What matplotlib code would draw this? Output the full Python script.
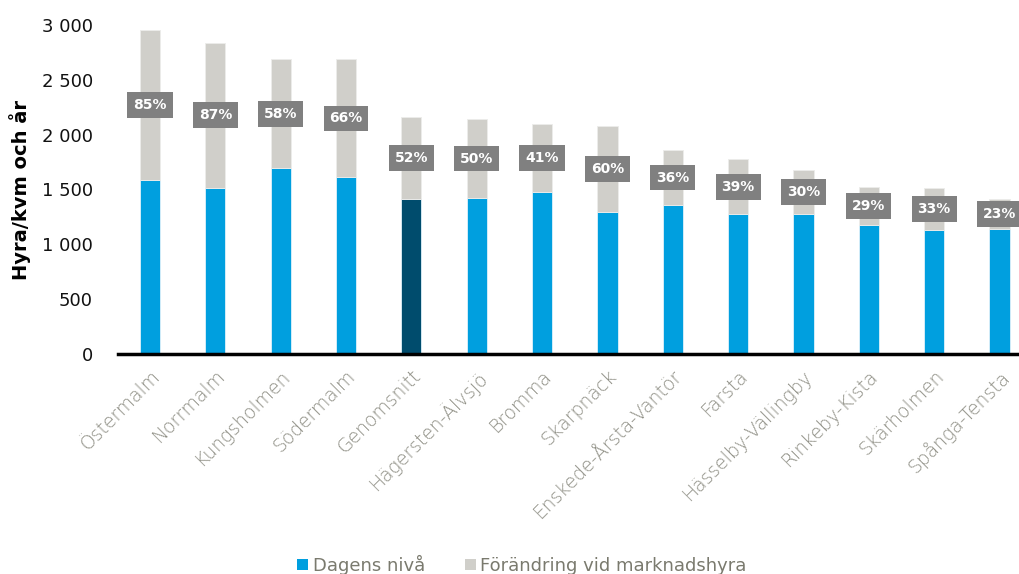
import matplotlib
matplotlib.use("Agg")
import matplotlib.pyplot as plt
from matplotlib.patches import Patch

categories = ["Östermalm", "Norrmalm", "Kungsholmen", "Södermalm", "Genomsnitt",
              "Hägersten-Älvsjö", "Bromma", "Skarpnäck", "Enskede-Årsta-Vantör",
              "Farsta", "Hässelby-Vällingby", "Rinkeby-Kista", "Skärholmen", "Spånga-Tensta"]
dagens = [1586, 1513, 1693, 1611, 1413, 1422, 1477, 1294, 1358, 1273, 1276, 1176, 1130, 1139]
totals = [2954, 2840, 2686, 2686, 2160, 2142, 2094, 2081, 1860, 1778, 1677, 1525, 1513, 1410]
pct_labels = ["85%", "87%", "58%", "66%", "52%", "50%", "41%", "60%", "36%", "39%",
              "30%", "29%", "33%", "23%"]
yticks = [0, 500, 1000, 1500, 2000, 2500, 3000]
ytick_labels = ["0", "500", "1 000", "1 500", "2 000", "2 500", "3 000"]

BLUE = "#009FDF"
NAVY = "#004C6D"
GREY = "#D0CFCA"
BOX = "#808080"

plt.rcParams['font.family'] = ['DejaVu Sans']

fig = plt.figure(figsize=(10.19, 5.74), dpi=100)
ax = fig.add_axes([118/1019, 1-354/574, 1-118/1019, 329/574])

x = list(range(len(categories)))
increase = [t - d for t, d in zip(totals, dagens)]
colors = [NAVY if c == "Genomsnitt" else BLUE for c in categories]
w = 0.31
ax.bar(x, dagens, width=w, color=colors, edgecolor="#dff1fa", linewidth=0.6)
ax.bar(x, increase, bottom=dagens, width=w, color=GREY, edgecolor="#ececea", linewidth=0.6)

for xi, d, t, lab in zip(x, dagens, totals, pct_labels):
    ax.text(xi, (d + t) / 2, lab, ha="center", va="center", color="white",
            fontsize=10, fontweight="bold",
            bbox=dict(boxstyle="square,pad=0.42", facecolor=BOX, edgecolor="none"))

ax.set_xlim(-0.49, 13.3)
ax.set_ylim(0, 3000)
ax.set_yticks(yticks)
ax.set_yticklabels(ytick_labels, fontsize=13, color="#111111")
ax.set_xticks(x)
ax.set_xticklabels(categories, rotation=45, ha="right", rotation_mode="anchor",
                   fontsize=13.5, color="#8e8e84", fontweight="light")
ax.tick_params(axis="both", length=0)
ax.tick_params(axis="y", pad=18)
ax.tick_params(axis="x", pad=9)
for s in ["top", "right", "left"]:
    ax.spines[s].set_visible(False)
ax.spines["bottom"].set_linewidth(2.5)
ax.spines["bottom"].set_color("black")
ax.set_ylabel("Hyra/kvm och år", fontsize=14, fontweight="bold", color="black")
ax.yaxis.set_label_coords(-0.097, 0.5)

handles = [Patch(facecolor=BLUE, edgecolor="none"), Patch(facecolor=GREY, edgecolor="none")]
fig.legend(handles, ["Dagens nivå", "Förändring vid marknadshyra"], loc="center",
           bbox_to_anchor=(522/1019, 1-565/574), ncol=2, frameon=False,
           prop={"size": 13}, labelcolor="#7a7a6e",
           handlelength=0.6, handleheight=0.6,
           handletextpad=0.25, columnspacing=2.2)

fig.savefig("out.png", dpi=100)
